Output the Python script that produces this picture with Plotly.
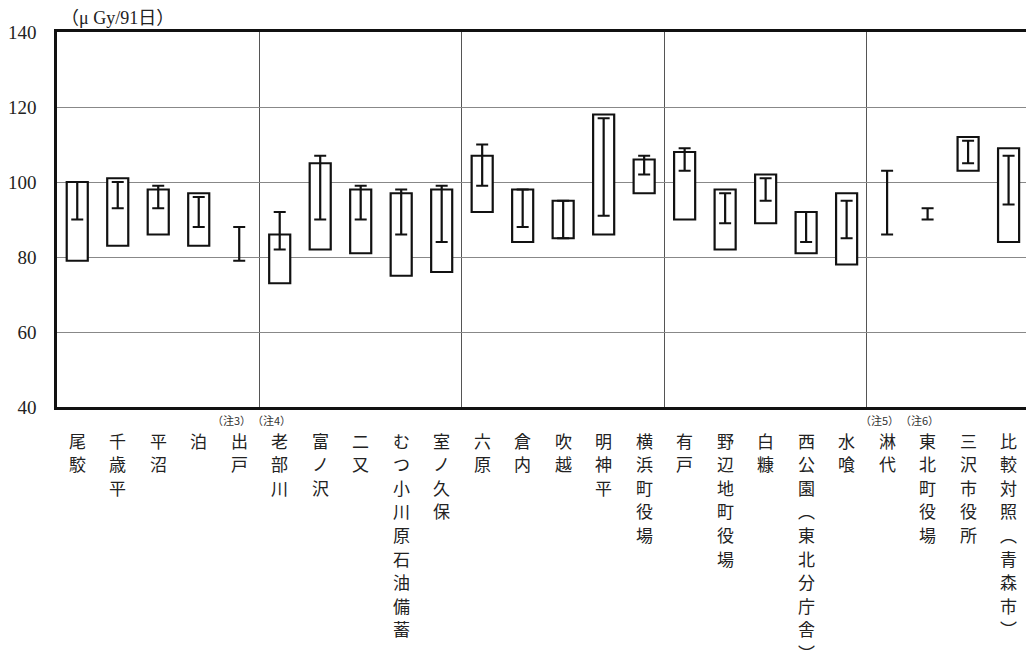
import plotly.graph_objects as go

categories = ["尾駮", "千歳平", "平沼", "泊", "出戸", "老部川", "富ノ沢", "二又",
              "むつ小川原石油備蓄", "室ノ久保", "六原", "倉内", "吹越", "明神平",
              "横浜町役場", "有戸", "野辺地町役場", "白糠", "西公園︵東北分庁舎︶",
              "水喰", "淋代", "東北町役場", "三沢市役所", "比較対照︵青森市︶"]
notes = {4: "（注3）", 5: "（注4）", 20: "（注5）", 21: "（注6）"}

box_low = [79, 83, 86, 83, None, 73, 82, 81, 75, 76, 92, 84, 85, 86, 97, 90, 82, 89, 81, 78, None, None, 103, 84]
box_high = [100, 101, 98, 97, None, 86, 105, 98, 97, 98, 107, 98, 95, 118, 106, 108, 98, 102, 92, 97, None, None, 112, 109]
err_low = [90, 93, 93, 88, 79, 82, 90, 90, 86, 84, 99, 88, 85, 91, 102, 103, 89, 95, 84, 85, 86, 90, 105, 94]
err_high = [100, 100, 99, 96, 88, 92, 107, 99, 98, 99, 110, 98, 95, 117, 107, 109, 97, 101, 92, 95, 103, 93, 111, 107]

y_ticks = [40, 60, 80, 100, 120, 140]
unit_label = ('<span style="font-family:Noto Sans CJK JP">（</span>μ Gy/91'
              '<span style="font-family:Noto Sans CJK JP">日）</span>')

idx = list(range(len(categories)))

fig = go.Figure()

bx = [i for i in idx if box_low[i] is not None]
fig.add_trace(go.Bar(
    x=bx,
    y=[box_high[i] - box_low[i] for i in bx],
    base=[box_low[i] for i in bx],
    width=0.52,
    marker=dict(color="white", line=dict(color="#111", width=2.2)),
    hoverinfo="skip",
    showlegend=False,
))

fig.add_trace(go.Scatter(
    x=idx,
    y=err_low,
    mode="markers",
    marker=dict(size=1, color="rgba(0,0,0,0)"),
    error_y=dict(type="data", symmetric=False,
                 array=[h - l for h, l in zip(err_high, err_low)],
                 arrayminus=[0] * len(idx),
                 color="#111", thickness=2.2, width=6),
    hoverinfo="skip",
    showlegend=False,
))

annotations = []
for i, name in enumerate(categories):
    for k, ch in enumerate(name):
        annotations.append(dict(
            text=ch,
            x=i, xref="x", y=0, yref="paper",
            xanchor="center", yanchor="middle", yshift=-(33 + k * 23.6),
            showarrow=False,
            font=dict(family="Noto Sans CJK JP", size=17, color="#222"),
        ))
for i, t in notes.items():
    annotations.append(dict(
        text=t, x=i - 0.2, xref="x", y=0, yref="paper",
        xanchor="center", yanchor="middle", yshift=-13,
        showarrow=False,
        font=dict(family="Noto Sans CJK JP", size=11, color="#333"),
    ))
annotations.append(dict(
    text=unit_label, x=0, xref="paper", y=1, yref="paper",
    xanchor="left", yanchor="bottom", xshift=2, yshift=1,
    showarrow=False,
    font=dict(family="Liberation Serif", size=18, color="#222"),
))

fig.update_layout(
    width=1026, height=657,
    margin=dict(l=57, r=0, t=32, b=250),
    paper_bgcolor="white", plot_bgcolor="white",
    annotations=annotations,
    xaxis=dict(
        range=[-0.5, 23.43],
        tickvals=[4.5, 9.5, 14.5, 19.5],
        showticklabels=False,
        showgrid=True, gridcolor="#555", gridwidth=1,
        zeroline=False,
        showline=True, linecolor="#111", linewidth=2.5, mirror=True,
        ticks="",
    ),
    yaxis=dict(
        range=[40, 140],
        tickvals=y_ticks,
        showgrid=True, gridcolor="#888", gridwidth=1,
        zeroline=False,
        showline=True, linecolor="#111", linewidth=2.5,
        ticks="",
        ticklabelstandoff=14,
        tickfont=dict(family="Liberation Serif", size=19, color="#222"),
    ),
)

fig.write_html("out.html")
